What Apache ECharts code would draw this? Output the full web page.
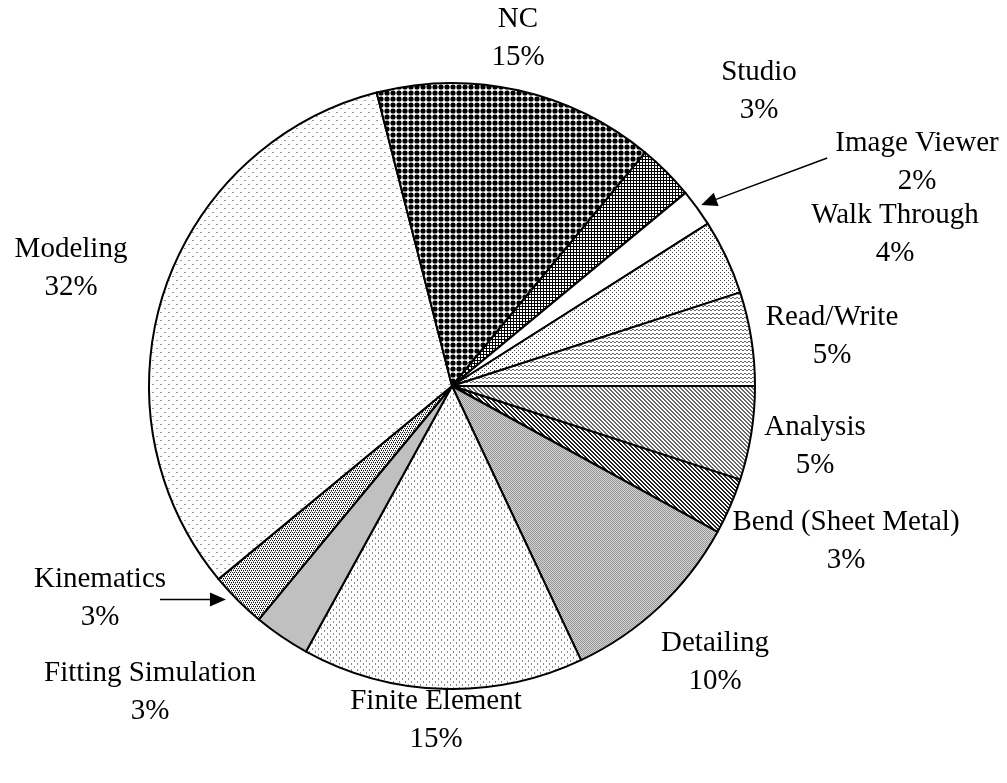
<!DOCTYPE html>
<html>
<head>
<meta charset="utf-8">
<title>Module usage share</title>
<script src="https://cdn.jsdelivr.net/npm/echarts@6/dist/echarts.min.js"></script>
<style>
  html, body { margin: 0; padding: 0; background: #fff; }
  #chart { width: 1007px; height: 783px; }
</style>
</head>
<body>
<div id="chart"></div>
<script>
// Module names, clockwise from 3 o'clock
const categories = [
  'Analysis', 'Bend (Sheet Metal)', 'Detailing', 'Finite Element',
  'Fitting Simulation', 'Kinematics', 'Modeling', 'NC', 'Studio',
  'Image Viewer', 'Walk Through', 'Read/Write'
];
// Share of each module, percent
const shares = [5, 3, 10, 15, 3, 3, 32, 15, 3, 2, 4, 5];

// Pie geometry
const CX = 452, CY = 386, R = 303;

// Where each two-line label sits (block centre)
const labelPos = {
  'Modeling': [71, 268],
  'NC': [518, 38],
  'Studio': [759, 91],
  'Image Viewer': [917, 162],
  'Walk Through': [895, 234],
  'Read/Write': [832, 336],
  'Analysis': [815, 446],
  'Bend (Sheet Metal)': [846, 541],
  'Detailing': [715, 662],
  'Finite Element': [436, 720],
  'Fitting Simulation': [150, 692],
  'Kinematics': [100, 598]
};

// ---- fill patterns drawn on small tiles ----
function tile(w, h, draw) {
  const c = document.createElement('canvas');
  c.width = w; c.height = h;
  const g = c.getContext('2d');
  g.fillStyle = '#fff';
  g.fillRect(0, 0, w, h);
  draw(g);
  return { image: c, repeat: 'repeat' };
}
function px(g, color, pts) {
  g.fillStyle = color;
  pts.forEach(p => g.fillRect(p[0], p[1], p[2] || 1, p[3] || 1));
}

const fills = {
  // light diagonal hatch
  'Analysis': tile(4, 4, g => px(g, '#6a6a6a', [[0,0],[1,1],[2,2],[3,3],[1,0],[2,1],[3,2],[0,3]])),
  // dense dark diagonal hatch
  'Bend (Sheet Metal)': tile(4, 4, g => px(g, '#222', [[0,0],[1,1],[2,2],[3,3],[1,0],[2,1],[3,2],[0,3]])),
  // fine grey dither
  'Detailing': tile(2, 2, g => { px(g, '#d2d2d2', [[0,0,2,2]]); px(g, '#989898', [[0,0],[1,1]]); }),
  // medium dots
  'Finite Element': tile(6, 6, g => px(g, '#8c8c8c', [[0,0,1,2],[3,3,1,2]])),
  // plain grey
  'Fitting Simulation': null,
  // small checker dots
  'Kinematics': tile(4, 4, g => {
    px(g, '#111', [[0,0],[2,0],[1,2],[3,2]]);
    px(g, '#909090', [[1,1],[3,3]]);
  }),
  // sparse faint dots
  'Modeling': tile(8, 8, g => px(g, '#9a9a9a', [[0,0,2,1],[4,4,2,1]])),
  // heavy black dots
  'NC': tile(6, 6, g => {
    g.fillStyle = '#000';
    g.beginPath();
    g.arc(3, 3, 2.6, 0, Math.PI * 2);
    g.fill();
    g.fillRect(1, 1, 4, 4);
  }),
  // fine black grid
  'Studio': tile(3, 3, g => px(g, '#000', [[0,0,3,1],[0,0,1,3]])),
  'Image Viewer': null,
  // fine black dots
  'Walk Through': tile(4, 4, g => px(g, '#444', [[0,0],[2,2]])),
  // horizontal dashed rows
  'Read/Write': tile(4, 4, g => px(g, '#6a6a6a', [[0,1,2,1],[2,2,2,1],[1,1],[3,2]]))
};
const plainColors = { 'Fitting Simulation': '#c0c0c0', 'Image Viewer': '#ffffff' };

const seriesData = categories.map((name, i) => ({
  name: name,
  value: shares[i],
  itemStyle: { color: fills[name] || plainColors[name] }
}));

// ---- arrows pointing at two thin slices ----
const total = shares.reduce((a, b) => a + b, 0);
function sliceAngle(name, frac) {
  const idx = categories.indexOf(name);
  let before = 0;
  for (let i = 0; i < idx; i++) before += shares[i];
  return (before + shares[idx] * frac) / total * Math.PI * 2;
}
function rimPoint(theta, r) {
  return [CX + r * Math.cos(theta), CY + r * Math.sin(theta)];
}
function arrow(tail, tip) {
  const dx = tip[0] - tail[0], dy = tip[1] - tail[1];
  const len = Math.hypot(dx, dy);
  const ux = dx / len, uy = dy / len;
  const headL = 16, headW = 7;
  const base = [tip[0] - ux * headL, tip[1] - uy * headL];
  return [
    { type: 'line', shape: { x1: tail[0], y1: tail[1], x2: base[0], y2: base[1] },
      style: { stroke: '#000', lineWidth: 1.5 }, silent: true },
    { type: 'polygon', shape: { points: [
        tip,
        [base[0] - uy * headW, base[1] + ux * headW],
        [base[0] + uy * headW, base[1] - ux * headW]
      ] }, style: { fill: '#000' }, silent: true }
  ];
}
const ivTip = rimPoint(sliceAngle('Image Viewer', 0.5), R + 5);
const kinTip = rimPoint(sliceAngle('Kinematics', 0.65), R + 8);
const arrows = [].concat(
  arrow([ivTip[0] + 126, ivTip[1] - 47], ivTip),
  arrow([160, kinTip[1]], kinTip)
);

const chart = echarts.init(document.getElementById('chart'), null, { renderer: 'canvas' });
chart.setOption({
  backgroundColor: '#ffffff',
  animation: false,
  graphic: arrows,
  series: [{
    type: 'pie',
    center: [CX, CY],
    radius: R,
    startAngle: 0,
    clockwise: true,
    avoidLabelOverlap: false,
    data: seriesData,
    itemStyle: { borderColor: '#000', borderWidth: 2 },
    emphasis: { disabled: true },
    labelLine: { show: false },
    label: {
      show: true,
      position: 'outside',
      formatter: '{b}\n{d}%',
      fontFamily: '"Liberation Serif", "Times New Roman", serif',
      fontSize: 29,
      lineHeight: 38,
      color: '#000',
      align: 'center'
    },
    labelLayout: function (p) {
      const pos = labelPos[categories[p.dataIndex]];
      return { x: pos[0], y: pos[1], align: 'center', verticalAlign: 'middle' };
    }
  }]
});
</script>
</body>
</html>
